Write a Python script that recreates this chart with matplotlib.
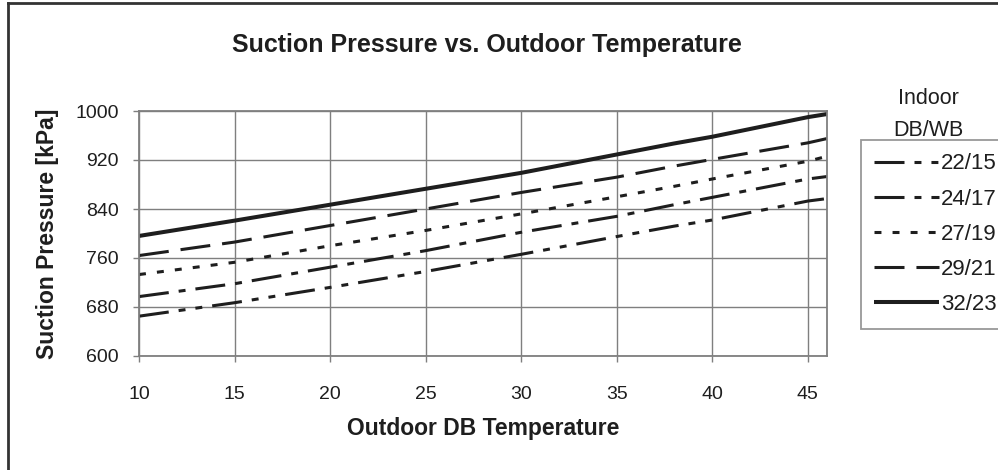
import matplotlib
matplotlib.use("Agg")
import matplotlib.pyplot as plt
from matplotlib.lines import Line2D

plt.rcParams['font.family'] = ['Liberation Sans', 'DejaVu Sans']
plt.rcParams['lines.scale_dashes'] = False

# outdoor DB temperature (C)
temps = [10, 15, 20, 25, 30, 35, 38, 40, 45, 46]

# suction pressure (kPa) for each indoor DB/WB condition
p_22_15 = [665, 687, 712, 738, 766, 795, 812, 822, 853, 857]
p_24_17 = [697, 718, 745, 772, 802, 828, 847, 859, 889, 893]
p_27_19 = [733, 753, 780, 805, 832, 860, 877, 889, 918, 926]
p_29_21 = [764, 786, 813, 840, 867, 892, 910, 921, 948, 955]
p_32_23 = [796, 821, 847, 873, 899, 929, 947, 958, 990, 995]

labels = ['22/15', '24/17', '27/19', '29/21', '32/23']
series = [p_22_15, p_24_17, p_27_19, p_29_21, p_32_23]
styles = [(0, (21.6, 7.2, 5, 7.2, 5, 7.2)),
          (0, (21.6, 7.2, 5, 7.2)),
          (0, (5, 8)),
          (0, (21.6, 8.6)),
          '-']
widths = [2.2, 2.2, 2.2, 2.2, 2.9]

col = '#1e1e1e'
gray = '#7f7f7f'

fig = plt.figure(figsize=(9.98, 4.70), dpi=100)
ax = fig.add_axes([139/998, 1-356/470, (827-139)/998, (356-111)/470])

for y, lab, ls, lw in zip(series, labels, styles, widths):
    ax.plot(temps, y, color=col, linestyle=ls, linewidth=lw, label=lab,
            dash_capstyle='butt', solid_capstyle='butt')

ax.set_xlim(10, 46)
ax.set_ylim(600, 1000)
ax.set_xticks(range(10, 46, 5))
ax.set_yticks(range(600, 1001, 80))
ax.grid(True, color=gray, linewidth=1)
ax.set_axisbelow(True)
for s in ax.spines.values():
    s.set_color(gray)
    s.set_linewidth(1.3)
ax.tick_params(direction='out', length=4.5, width=1, color=gray,
               labelsize=14, labelcolor=col)
ax.tick_params(axis='x', pad=17)
ax.tick_params(axis='y', pad=10)

ax.set_xlabel('Outdoor DB Temperature', fontsize=16.5, fontweight='bold',
              color=col, labelpad=10)
ax.set_ylabel('Suction Pressure [kPa]', fontsize=16.5, fontweight='bold',
              color=col, labelpad=12)
fig.text(487/998, 1-45/470, 'Suction Pressure vs. Outdoor Temperature',
         ha='center', va='center', fontsize=18, fontweight='bold', color=col)

leg = ax.legend(loc='upper left', bbox_to_anchor=(861/998, 1-140/470),
                bbox_transform=fig.transFigure, borderaxespad=0,
                fontsize=16, frameon=True, fancybox=False,
                handlelength=2.9, handletextpad=0.1, labelspacing=0.64,
                borderpad=0.6)
leg.get_frame().set_edgecolor(gray)
leg.get_frame().set_linewidth(1.3)
for t in leg.get_texts():
    t.set_color(col)

fig.text(928/998, 1-98/470, 'Indoor', ha='center', va='center',
         fontsize=15.5, color=col)
fig.text(928/998, 1-130/470, 'DB/WB', ha='center', va='center',
         fontsize=15.5, color=col)

# outer border of the chart area (right and bottom are cut off)
fig.add_artist(Line2D([8/998, 8/998], [0, 1-3/470], transform=fig.transFigure,
                      color='#333333', linewidth=2))
fig.add_artist(Line2D([8/998, 1], [1-3/470, 1-3/470], transform=fig.transFigure,
                      color='#333333', linewidth=2))

fig.savefig('out.png', dpi=100)
